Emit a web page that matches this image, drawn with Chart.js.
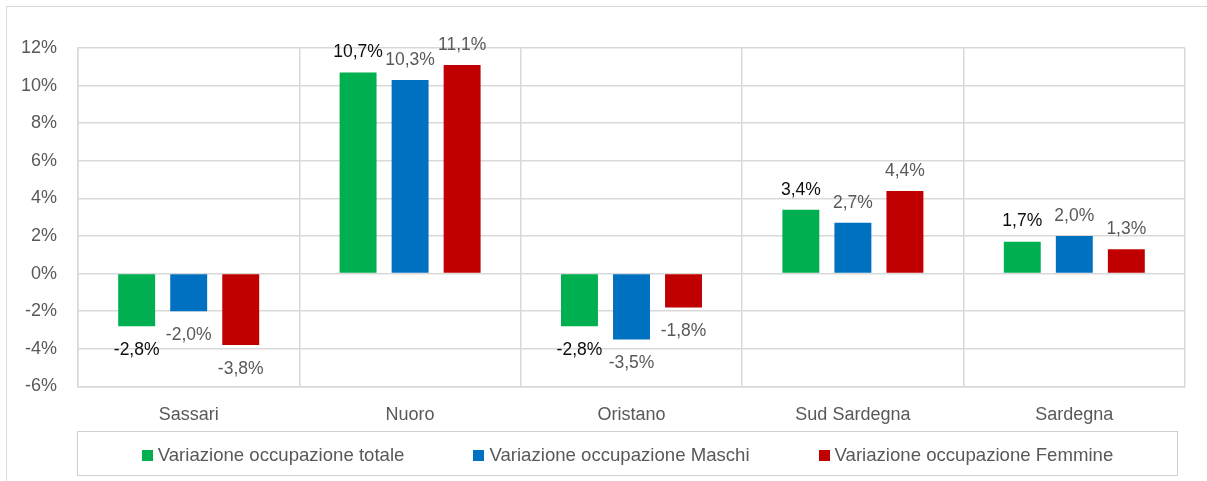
<!DOCTYPE html>
<html>
<head>
<meta charset="utf-8">
<script src="https://cdn.jsdelivr.net/npm/chart.js@4/dist/chart.umd.min.js"></script>
<style>
    html, body { margin: 0; padding: 0; background: #fff; overflow: hidden; }
    #wrap { position: relative; width: 1207px; height: 481px; }
    #frame {
        position: absolute; left: 6px; top: 6px; width: 1300px; height: 600px;
        border: 1.5px solid #d9d9d9; box-sizing: border-box;
    }
    #myChart { position: absolute; left: 0; top: 0; }
    #legenda {
        position: absolute; left: 77px; top: 431px; width: 1101px; height: 45px;
        border: 1.5px solid #d0d0d0; box-sizing: border-box;
        display: flex; justify-content: center; align-items: center; gap: 69px;
        padding-top: 3px;
        font-family: "Liberation Sans", Arial, sans-serif; font-size: 18.6px; color: #595959;
    }
    #legenda .item { display: flex; align-items: center; white-space: nowrap; }
    #legenda .box { width: 11px; height: 11px; margin-right: 5px; }
</style>
</head>
<body>
<div id="wrap">
    <div id="frame"></div>
    <canvas id="myChart" width="1207" height="481"></canvas>
    <div id="legenda"></div>
</div>
<script>
const categorie = ['Sassari', 'Nuoro', 'Oristano', 'Sud Sardegna', 'Sardegna'];
const varTotale = [-2.8, 10.7, -2.8, 3.4, 1.7];
const varMaschi = [-2.0, 10.3, -3.5, 2.7, 2.0];
const varFemmine = [-3.8, 11.1, -1.8, 4.4, 1.3];
const etichette = ['Variazione occupazione totale', 'Variazione occupazione Maschi', 'Variazione occupazione Femmine'];
const colori = ['#00b050', '#0070c0', '#c00000'];
const coloriValori = ['#0d0d0d', '#595959', '#595959'];

const FONT = '"Liberation Sans", Arial, sans-serif';

function formatPerc(v) {
    return v.toFixed(1).replace('.', ',') + '%';
}

// scrive il valore sopra (o sotto) ogni barra
const valoriPlugin = {
    id: 'valori',
    afterDatasetsDraw(chart) {
        const ctx = chart.ctx;
        ctx.save();
        ctx.font = '17.5px ' + FONT;
        ctx.textAlign = 'center';
        ctx.textBaseline = 'middle';
        chart.data.datasets.forEach((ds, i) => {
            const meta = chart.getDatasetMeta(i);
            meta.data.forEach((bar, j) => {
                const v = ds.data[j];
                ctx.fillStyle = coloriValori[i];
                const y = v >= 0 ? bar.y - 20 : bar.y + 24;
                ctx.fillText(formatPerc(v), bar.x, y);
            });
        });
        ctx.restore();
    }
};

function buildLegend() {
    const el = document.getElementById('legenda');
    etichette.forEach((lbl, i) => {
        const item = document.createElement('div');
        item.className = 'item';
        const box = document.createElement('span');
        box.className = 'box';
        box.style.background = colori[i];
        const txt = document.createElement('span');
        txt.textContent = lbl;
        item.appendChild(box);
        item.appendChild(txt);
        el.appendChild(item);
    });
}

function drawChart() {
    const ctx = document.getElementById('myChart');
    const serie = [varTotale, varMaschi, varFemmine];
    new Chart(ctx, {
        type: 'bar',
        data: {
            labels: categorie,
            datasets: serie.map((d, i) => ({
                label: etichette[i],
                data: d,
                backgroundColor: colori[i],
                borderWidth: 0,
                categoryPercentage: 0.705,
                barPercentage: 0.71
            }))
        },
        options: {
            responsive: false,
            animation: false,
            layout: {
                padding: {left: 0, right: 22, top: 48, bottom: 37}
            },
            plugins: {
                legend: {display: false},
                tooltip: {enabled: false}
            },
            scales: {
                x: {
                    grid: {color: '#d9d9d9', lineWidth: 1.5, drawTicks: false, offset: true},
                    border: {color: '#d9d9d9', width: 1.5},
                    ticks: {color: '#595959', font: {family: FONT, size: 18}, padding: 18}
                },
                y: {
                    min: -6,
                    max: 12,
                    grid: {color: '#d9d9d9', lineWidth: 1.5, drawTicks: false},
                    border: {color: '#d9d9d9', width: 1.5},
                    ticks: {
                        stepSize: 2,
                        color: '#595959',
                        font: {family: FONT, size: 18},
                        padding: 21,
                        callback: v => v + '%'
                    },
                    afterFit: scale => { scale.width = 78; }
                }
            }
        },
        plugins: [valoriPlugin]
    });
}

buildLegend();
drawChart();
</script>
</body>
</html>
